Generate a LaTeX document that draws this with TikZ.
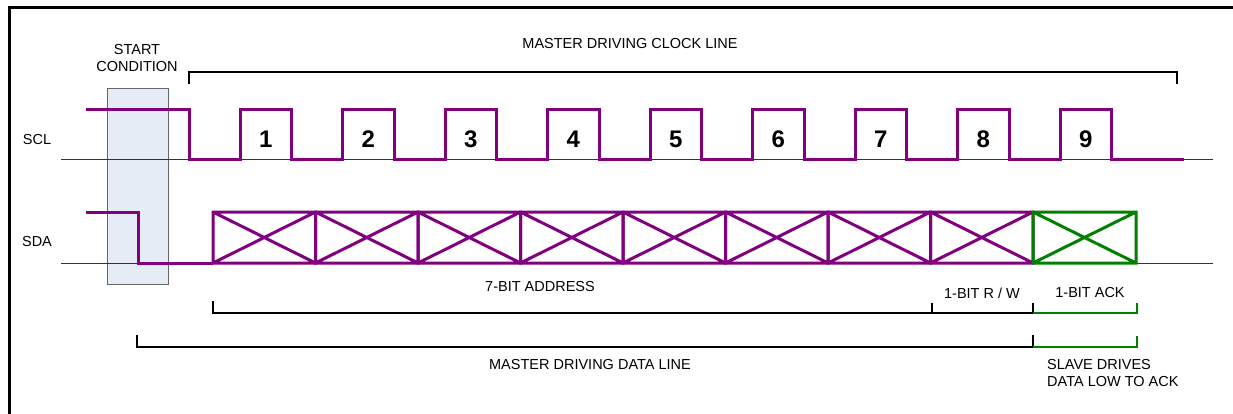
\documentclass[tikz,border=0pt]{standalone}
\usepackage{fontspec}
\setmainfont{Liberation Sans}
\definecolor{sigpurple}{HTML}{800080}
\definecolor{ackgreen}{HTML}{008000}
\definecolor{startfill}{HTML}{E6ECF6}
\begin{document}
\begin{tikzpicture}[x=1pt,y=-1pt,
  sig/.style={draw=sigpurple,line width=3pt,line join=miter},
  acksig/.style={draw=ackgreen,line width=3pt,line join=miter},
  baseline/.style={draw=black!80,line width=1pt},
  brace/.style={draw=black,line width=1.6pt},
  gbrace/.style={draw=ackgreen,line width=1.6pt},
  lbl/.style={font=\fontsize{14.5}{17}\selectfont,inner sep=0pt,align=center},
  num/.style={font=\fontsize{24}{24}\selectfont\bfseries,inner sep=0pt}]
\useasboundingbox (0,0) rectangle (1233,414);
% frame
\draw[black,line width=3pt] (1233,8) -- (9,8) -- (9,414);
% start condition box
\draw[draw=black!60,fill=startfill,line width=1pt] (107,89) rectangle (168,284);
% baselines
\draw[baseline] (61,160) -- (1213,160);
\draw[baseline] (61,263) -- (1213,263);
% SCL
\draw[sig] (86,110) -- (189,110) -- (189,160)
  foreach \k in {0,...,8}{ -- ({240+102.5*\k},160) -- ({240+102.5*\k},110) -- ({291.5+102.5*\k},110) -- ({291.5+102.5*\k},160)}
  -- (1184,160);
\foreach \k in {1,...,9}{
  \node[num] (n\k) at ({265.75+102.5*(\k-1)},139) {\k};
}
% SDA
\draw[sig] (86,212) -- (138,212) -- (138,263) -- (213,263);
\foreach \k in {0,...,7}{
  \draw[sig] ({213+102.5*\k},212) rectangle ({315.5+102.5*\k},263)
    ({213+102.5*\k},212) -- ({315.5+102.5*\k},263)
    ({213+102.5*\k},263) -- ({315.5+102.5*\k},212);
}
\draw[acksig] (1033,212) rectangle (1136,263) (1033,212) -- (1136,263) (1033,263) -- (1136,212);
% labels
\node[lbl] (scl) at (37,140) {SCL};
\node[lbl] (sda) at (37,242) {SDA};
\node[lbl] (start) at (137,58) {START\\CONDITION};
\node[lbl] (mclk) at (630,44) {MASTER DRIVING CLOCK LINE};
\node[lbl] (addr) at (540,287) {7-BIT ADDRESS};
\node[lbl] (rw) at (982,293) {1-BIT R / W};
\node[lbl] (ack) at (1090,293) {1-BIT ACK};
\node[lbl] (mdata) at (590,365) {MASTER DRIVING DATA LINE};
\node[lbl,align=left,anchor=west] (slave) at (1047,373) {SLAVE DRIVES\\DATA LOW TO ACK};
% brackets
\draw[brace] (189,84) -- (189,72) -- (1177,72) -- (1177,84);
\draw[brace] (213,301) -- (213,313) -- (1033,313) -- (1033,303);
\draw[brace] (932,303) -- (932,313);
\draw[gbrace] (1033,313) -- (1137,313) -- (1137,303);
\draw[brace] (137,335) -- (137,347) -- (1033,347) -- (1033,335);
\draw[gbrace] (1033,347) -- (1137,347) -- (1137,336);
\end{tikzpicture}
\end{document}
